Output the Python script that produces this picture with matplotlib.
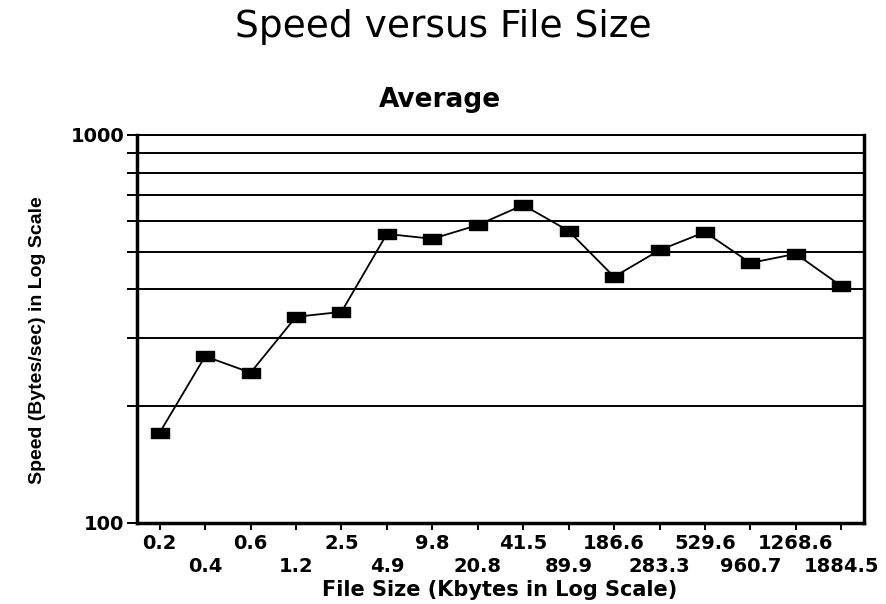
import matplotlib
matplotlib.use("Agg")
import matplotlib.pyplot as plt
from matplotlib.path import Path
from matplotlib.ticker import FixedLocator, NullFormatter

plt.rcParams['font.family'] = ['DejaVu Sans']

# file sizes (Kbytes) and average speed (bytes/sec)
sizes = ["0.2", "0.4", "0.6", "1.2", "2.5", "4.9", "9.8", "20.8", "41.5",
         "89.9", "186.6", "283.3", "529.6", "960.7", "1268.6", "1884.5"]
speed = [171, 269, 244, 340, 350, 556, 540, 586, 660, 566, 431, 505, 562,
         468, 494, 408]

rect = Path([(-1, -0.5), (1, -0.5), (1, 0.5), (-1, 0.5), (-1, -0.5)],
            [Path.MOVETO, Path.LINETO, Path.LINETO, Path.LINETO, Path.CLOSEPOLY])

fig = plt.figure(figsize=(8.86, 6.04), dpi=100)
ax = fig.add_axes([137 / 886, 1 - 523 / 604, 727 / 886, 388 / 604])

x = list(range(len(sizes)))
ax.plot(x, speed, color="black", lw=1.3, marker=rect, markersize=13,
        markerfacecolor="black", markeredgecolor="black")

ax.set_yscale("log")
ax.set_ylim(100, 1000)
ax.set_xlim(-0.5, len(sizes) - 0.5)

ax.yaxis.set_major_locator(FixedLocator([100, 1000]))
ax.yaxis.set_minor_locator(FixedLocator([200, 300, 400, 500, 600, 700, 800, 900]))
ax.yaxis.set_minor_formatter(NullFormatter())
ax.set_yticklabels(["100", "1000"], fontsize=14, fontweight="bold")
ax.grid(axis="y", which="both", color="black", lw=1.4)
ax.tick_params(axis="y", which="both", length=7, width=1.4, direction="out", pad=2)

# tick marks at each category, labels alternate between two rows
ax.set_xticks(x)
ax.set_xticklabels([])
ax.tick_params(axis="x", length=5, width=1.4, direction="out")
for i, s in enumerate(sizes):
    ax.text(i, -0.052 if i % 2 == 0 else -0.113, s, transform=ax.get_xaxis_transform(),
            ha="center", va="center", fontsize=14, fontweight="bold")

for side in ["left", "bottom", "right"]:
    ax.spines[side].set_linewidth(2.5)
ax.spines["top"].set_linewidth(1.4)

fig.text(500 / 886, 1 - 590 / 604, "File Size (Kbytes in Log Scale)", ha="center",
         va="center", fontsize=15, fontweight="bold")
fig.text(38 / 886, 1 - 340 / 604, "Speed (Bytes/sec) in Log Scale", ha="center",
         va="center", rotation=90, fontsize=14, fontweight="bold",
         family="Liberation Sans")

fig.text(443 / 886, 1 - 37 / 604, "Speed versus File Size", ha="center",
         va="baseline", fontsize=27)
fig.text(440 / 886, 1 - 107 / 604, "Average", ha="center", va="baseline",
         fontsize=19, fontweight="bold")

fig.savefig("out.png", dpi=100)
